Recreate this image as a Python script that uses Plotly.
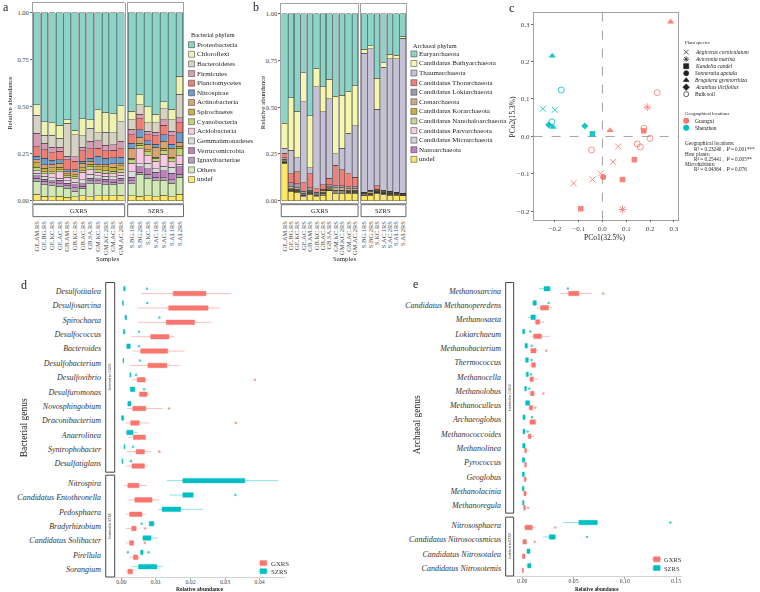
import plotly.graph_objects as go

W, H = 760, 592
FONT = "Liberation Serif"
RED = "#F8766D"
TEAL = "#00BFC4"
RED_L = "rgba(248,118,109,0.45)"
TEAL_L = "rgba(0,191,196,0.45)"

# ---------------- panel a : bacterial phyla ----------------
gx_samples = ["GE.AM.RS", "GE.BG.RS", "GE.KC.RS", "GE.AC.RS", "GB.AM.RS", "GB.KC.RS",
              "GB.AC.RS", "GB.SA.RS", "GM.KC.RS", "GM.KC.2RS", "GM.AC.RS", "GM.AC.2RS"]
sz_samples = ["S.BG.1RS", "S.BG.2RS", "S.KC.RS", "S.AC.1RS", "S.AC.2RS", "S.AI.1RS", "S.AI.2RS"]

proteobacteria = [0.49, 0.58, 0.585, 0.60, 0.57, 0.625, 0.565, 0.57, 0.517, 0.53, 0.538, 0.494,
                  0.524, 0.437, 0.50, 0.54, 0.473, 0.513, 0.338]
chloroflexi = [0.055, 0.071, 0.066, 0.067, 0.018, 0.025, 0.09, 0.045, 0.123, 0.105, 0.10, 0.086,
               0.046, 0.053, 0.085, 0.045, 0.037, 0.057, 0.097]
bacteroidetes = [0.097, 0.044, 0.065, 0.048, 0.177, 0.116, 0.06, 0.07, 0.04, 0.07, 0.065, 0.105,
                 0.05, 0.05, 0.045, 0.05, 0.06, 0.06, 0.125]
firmicutes = [0.07, 0.035, 0.03, 0.023, 0.018, 0.025, 0.02, 0.04, 0.04, 0.03, 0.03, 0.04,
              0.03, 0.025, 0.02, 0.02, 0.03, 0.025, 0.025]
planctomycetes = [0.053, 0.044, 0.04, 0.044, 0.053, 0.045, 0.055, 0.05, 0.045, 0.04, 0.04, 0.045,
                  0.045, 0.058, 0.03, 0.045, 0.05, 0.045, 0.055]
nitrospirae = [0.018, 0.035, 0.02, 0.018, 0.009, 0.01, 0.01, 0.015, 0.04, 0.03, 0.03, 0.03,
               0.025, 0.039, 0.02, 0.015, 0.035, 0.02, 0.05]
actinobacteria = [0.014, 0.018, 0.02, 0.021, 0.012, 0.015, 0.025, 0.015, 0.015, 0.015, 0.02, 0.015,
                  0.055, 0.032, 0.03, 0.055, 0.035, 0.05, 0.02]
spirochaetes = [0.025, 0.018, 0.02, 0.014, 0.011, 0.012, 0.015, 0.015, 0.015, 0.02, 0.02, 0.02,
                0.005, 0.01, 0.01, 0.005, 0.012, 0.008, 0.01]
cyanobacteria = [0.02, 0.012, 0.012, 0.011, 0.007, 0.01, 0.01, 0.015, 0.015, 0.015, 0.015, 0.015,
                 0.02, 0.02, 0.02, 0.015, 0.02, 0.015, 0.04]
acidobacteria = [0.012, 0.014, 0.02, 0.034, 0.018, 0.02, 0.04, 0.025, 0.018, 0.015, 0.015, 0.015,
                 0.045, 0.08, 0.04, 0.04, 0.065, 0.03, 0.045]
gemmatimonadetes = [0.014, 0.014, 0.015, 0.012, 0.014, 0.012, 0.02, 0.02, 0.015, 0.015, 0.015, 0.015,
                    0.03, 0.016, 0.03, 0.02, 0.025, 0.03, 0.015]
verrucomicrobia = [0.012, 0.012, 0.012, 0.018, 0.014, 0.015, 0.013, 0.015, 0.012, 0.015, 0.015, 0.015,
                   0.02, 0.03, 0.03, 0.025, 0.035, 0.035, 0.04]
ignavibacteriae = [0.018, 0.018, 0.015, 0.014, 0.012, 0.02, 0.012, 0.015, 0.015, 0.015, 0.012, 0.015,
                   0.015, 0.01, 0.02, 0.018, 0.015, 0.02, 0.015]
bac_others = [0.067, 0.062, 0.06, 0.053, 0.048, 0.03, 0.04, 0.068, 0.065, 0.06, 0.06, 0.06,
              0.065, 0.117, 0.095, 0.085, 0.08, 0.07, 0.09]
bac_undef = [0.035, 0.023, 0.02, 0.023, 0.019, 0.02, 0.025, 0.022, 0.025, 0.025, 0.025, 0.03,
             0.025, 0.023, 0.025, 0.022, 0.028, 0.022, 0.035]

bac_names = ["Proteobacteria", "Chloroflexi", "Bacteroidetes", "Firmicutes", "Planctomycetes",
             "Nitrospirae", "Actinobacteria", "Spirochaetes", "Cyanobacteria", "Acidobacteria",
             "Gemmatimonadetes", "Verrucomicrobia", "Ignavibacteriae", "Others", "undef"]
bac_values = [proteobacteria, chloroflexi, bacteroidetes, firmicutes, planctomycetes, nitrospirae,
              actinobacteria, spirochaetes, cyanobacteria, acidobacteria, gemmatimonadetes,
              verrucomicrobia, ignavibacteriae, bac_others, bac_undef]
bac_colors = ["#8DD3C7", "#EEF3B2", "#D6D2C4", "#D99BB4", "#EF7F74", "#6F9DCB", "#D9A56F",
              "#CDB042", "#BCD67C", "#F9C8E3", "#DCDCDC", "#BD82BE", "#B9A0BA", "#D1EAB5", "#FDE767"]

# ---------------- panel b : archaeal phyla ----------------
euryarchaeota = [0.585, 0.45, 0.52, 0.315, 0.545, 0.29, 0.39, 0.35, 0.44, 0.435, 0.415, 0.385,
                 0.19, 0.17, 0.345, 0.26, 0.215, 0.22, 0.12]
bathyarchaeota = [0.135, 0.28, 0.25, 0.155, 0.28, 0.10, 0.135, 0.105, 0.31, 0.285, 0.225, 0.215,
                  0.02, 0.015, 0.165, 0.025, 0.025, 0.02, 0.01]
thaumarchaeota = [0.025, 0.125, 0.075, 0.435, 0.03, 0.545, 0.39, 0.425, 0.06, 0.115, 0.215, 0.275,
                  0.745, 0.76, 0.41, 0.66, 0.71, 0.715, 0.83]
thorarchaeota = [0.025, 0.05, 0.065, 0.045, 0.075, 0.02, 0.025, 0.035, 0.11, 0.085, 0.07, 0.05,
                 0.0, 0.0, 0.019, 0.001, 0.0, 0.0, 0.0]
lokiarchaeota = [0.007, 0.02, 0.02, 0.01, 0.015, 0.008, 0.005, 0.01, 0.01, 0.01, 0.01, 0.01,
                 0.005, 0.005, 0.005, 0.004, 0.004, 0.002, 0.001]
crenarchaeota = [0.008, 0.01, 0.01, 0.007, 0.005, 0.005, 0.01, 0.005, 0.013, 0.013, 0.01, 0.01,
                 0.004, 0.009, 0.005, 0.004, 0.005, 0.003, 0.002]
korarchaeota = [0.005, 0.004, 0.004, 0.003, 0.005, 0.003, 0.004, 0.005, 0.005, 0.005, 0.004, 0.004,
                0.003, 0.003, 0.003, 0.003, 0.003, 0.002, 0.002]
nanohaloarchaeota = [0.003, 0.003, 0.003, 0.002, 0.002, 0.002, 0.003, 0.002, 0.003, 0.003, 0.003, 0.003,
                     0.002, 0.002, 0.002, 0.002, 0.002, 0.002, 0.002]
parvarchaeota = [0.002, 0.002, 0.002, 0.002, 0.002, 0.002, 0.002, 0.002, 0.002, 0.002, 0.002, 0.002,
                 0.001, 0.001, 0.001, 0.001, 0.001, 0.001, 0.001]
micrarchaeota = [0.003, 0.004, 0.004, 0.004, 0.004, 0.003, 0.004, 0.004, 0.005, 0.005, 0.004, 0.004,
                 0.003, 0.003, 0.003, 0.003, 0.003, 0.003, 0.002]
nanoarchaeota = [0.002, 0.002, 0.002, 0.002, 0.002, 0.002, 0.002, 0.002, 0.002, 0.002, 0.002, 0.002,
                 0.002, 0.002, 0.002, 0.002, 0.002, 0.002, 0.002]
arc_undef = [0.20, 0.05, 0.045, 0.02, 0.035, 0.02, 0.03, 0.055, 0.04, 0.04, 0.04, 0.04,
             0.025, 0.03, 0.04, 0.035, 0.03, 0.03, 0.028]

arc_names = ["Euryarchaeota", "Candidatus Bathyarchaeota", "Thaumarchaeota", "Candidatus Thorarchaeota",
             "Candidatus Lokiarchaeota", "Crenarchaeota", "Candidatus Korarchaeota",
             "Candidatus Nanohaloarchaeota", "Candidatus Parvarchaeota", "Candidatus Micrarchaeota",
             "Nanoarchaeota", "undef"]
arc_values = [euryarchaeota, bathyarchaeota, thaumarchaeota, thorarchaeota, lokiarchaeota,
              crenarchaeota, korarchaeota, nanohaloarchaeota, parvarchaeota, micrarchaeota,
              nanoarchaeota, arc_undef]
arc_colors = ["#8DD3C7", "#F6F6B0", "#C6C2D5", "#EE8079", "#A09AA8", "#CBAA86", "#CDB042",
              "#C7D5A0", "#F7D0E2", "#D5D0DA", "#BD82BE", "#FDE767"]

# ---------------- panel c : PCoA ----------------
pc1 = [-0.211, -0.173, -0.25, -0.2, -0.212, -0.225, -0.208, -0.074, -0.042,
       0.286, 0.23, 0.188, 0.174, 0.173, 0.2, 0.032, -0.046, 0.066, 0.146, 0.159,
       0.045, 0.134, -0.008, 0.003, 0.084, -0.042, -0.121, -0.091, 0.084]
pc2 = [0.215, 0.124, 0.074, 0.071, 0.039, 0.031, 0.025, 0.028, 0.007,
       0.306, 0.117, 0.078, 0.022, 0.015, -0.005, 0.016, -0.036, -0.027, -0.02, -0.028,
       -0.068, -0.062, -0.099, -0.108, -0.115, -0.115, -0.125, -0.193, -0.195]
pt_species = ["Bruguiera gymnorrhiza", "Bulk soil", "Aegiceras corniculatum", "Aegiceras corniculatum",
              "Bulk soil", "Acanthus ilicifolius", "Bruguiera gymnorrhiza", "Acanthus ilicifolius",
              "Kandelia candel",
              "Bruguiera gymnorrhiza", "Bulk soil", "Avicennia marina", "Bulk soil", "Kandelia candel",
              "Bulk soil", "Bruguiera gymnorrhiza", "Bulk soil", "Aegiceras corniculatum", "Bulk soil",
              "Bulk soil", "Aegiceras corniculatum", "Kandelia candel", "Aegiceras corniculatum",
              "Sonneratia apetala", "Kandelia candel", "Aegiceras corniculatum",
              "Aegiceras corniculatum", "Kandelia candel", "Avicennia marina"]
pt_location = ["Shenzhen"] * 9 + ["Guangxi"] * 20
species_names = ["Aegiceras corniculatum", "Avicennia marina", "Kandelia candel", "Sonneratia apetala",
                 "Bruguiera gymnorrhiza", "Acanthus ilicifolius", "Bulk soil"]
species_symbols = ["x-thin", "asterisk", "square", "circle", "triangle-up", "diamond", "circle-open"]
species_sizes = [6, 6.5, 5.5, 6, 6.5, 5.5, 6]
location_names = ["Guangxi", "Shenzhen"]
location_colors = [RED, TEAL]
stats_lines = ["Geographical locations:", "R\u00b2 = 0.23240\uff0c<i>P</i> = 0.001***",
               "Host plants:", "R\u00b2 = 0.25441\uff0c<i>P</i> = 0.005**",
               "Microhabitats:", "R\u00b2 = 0.04364\uff0c<i>P</i> = 0.076"]

# ---------------- panel d : bacterial genera (lowerfence, q1, median, q3, upperfence) ----------------
d_genus = ["Desulfotitalea", "Desulfosarcina", "Spirochaeta", "Desulfococcus", "Bacteroides",
           "Desulfobacterium", "Desulfovibrio", "Desulfuromonas", "Novosphingobium",
           "Draconibacterium", "Anaerolinea", "Syntrophobacter", "Desulfatiglans",
           "Nitrospira", "Candidatus Entotheonella", "Pedosphaera", "Bradyrhizobium",
           "Candidatus Solibacter", "Pirellula", "Sorangium"]
d_split = 13
d_gxrs = [(0.0057, 0.015, 0.0203, 0.0245, 0.0318), (0.0047, 0.0137, 0.0221, 0.0251, 0.0285),
          (0.0048, 0.013, 0.0195, 0.0212, 0.026), (0.0029, 0.0085, 0.0123, 0.0138, 0.0154),
          (0.0033, 0.0056, 0.0094, 0.0134, 0.0183), (0.0026, 0.0077, 0.0118, 0.0132, 0.0169),
          (0.0031, 0.0046, 0.006, 0.0069, 0.0074), (0.0048, 0.0053, 0.0068, 0.0075, 0.0084),
          (0.0017, 0.0033, 0.0054, 0.0071, 0.0119), (0.0012, 0.0027, 0.0039, 0.0052, 0.0081),
          (0.0021, 0.0035, 0.0054, 0.007, 0.007), (0.0016, 0.0043, 0.0055, 0.0067, 0.0086),
          (0.0013, 0.0031, 0.0051, 0.0067, 0.0078),
          (0.0009, 0.0019, 0.0036, 0.0051, 0.0074), (0.002, 0.0039, 0.0063, 0.0089, 0.0109),
          (0.0013, 0.0024, 0.0041, 0.006, 0.0071), (0.0013, 0.003, 0.0036, 0.0043, 0.0045),
          (0.0012, 0.0024, 0.0029, 0.0036, 0.0036), (0.0024, 0.0035, 0.0041, 0.0048, 0.0053),
          (0.0014, 0.0019, 0.0026, 0.0033, 0.0033)]
d_szrs = [(0.0005, 0.0007, 0.0009, 0.0011, 0.0013), (0.0003, 0.0004, 0.0005, 0.0006, 0.0007),
          (0.001, 0.0011, 0.0013, 0.0015, 0.0016), (0.0005, 0.0006, 0.0008, 0.001, 0.0011),
          (0.0014, 0.0016, 0.0021, 0.0026, 0.0028), (0.0004, 0.0005, 0.0006, 0.0007, 0.0008),
          (0.0024, 0.0025, 0.0026, 0.0027, 0.0028), (0.0024, 0.0026, 0.0033, 0.0039, 0.0041),
          (0.0016, 0.0019, 0.0025, 0.0028, 0.0029), (0.0, 0.0001, 0.0003, 0.0007, 0.0009),
          (0.0012, 0.0016, 0.0023, 0.0034, 0.0048), (0.0007, 0.0008, 0.0009, 0.001, 0.0011),
          (0.0002, 0.0002, 0.0003, 0.0004, 0.0004),
          (0.0132, 0.0178, 0.0243, 0.0357, 0.0453), (0.014, 0.0178, 0.019, 0.0208, 0.0208),
          (0.0107, 0.0118, 0.0147, 0.0172, 0.0237), (0.0081, 0.0081, 0.0088, 0.0094, 0.0098),
          (0.0059, 0.0063, 0.0074, 0.0086, 0.0106), (0.0056, 0.0056, 0.006, 0.0063, 0.0063),
          (0.0029, 0.005, 0.0074, 0.0103, 0.0119)]
d_out_gxrs_genus = ["Desulfovibrio", "Novosphingobium", "Draconibacterium", "Syntrophobacter",
                    "Bradyrhizobium", "Candidatus Solibacter"]
d_out_gxrs_value = [0.0386, 0.0138, 0.0331, 0.011, 0.0069, 0.0068]
d_out_szrs_genus = ["Desulfotitalea", "Desulfosarcina", "Spirochaeta", "Desulfococcus", "Bacteroides",
                    "Desulfobacterium", "Desulfovibrio", "Desulfuromonas", "Syntrophobacter",
                    "Desulfatiglans", "Candidatus Entotheonella", "Bradyrhizobium", "Pirellula", "Pirellula"]
d_out_szrs_value = [0.0074, 0.0075, 0.011, 0.0051, 0.0051, 0.0054, 0.0043, 0.0066, 0.0034,
                    0.0028, 0.033, 0.0059, 0.0019, 0.0079]

# ---------------- panel e : archaeal genera ----------------
e_genus = ["Methanosarcina", "Candidatus Methanoperedens", "Methanosaeta", "Lokiarchaeum",
           "Methanobacterium", "Thermococcus", "Methanocella", "Methanolobus", "Methanoculleus",
           "Archaeoglobus", "Methanococcoides", "Methanolinea", "Pyrococcus", "Geoglobus",
           "Methanolacinia", "Methanoregula",
           "Nitrososphaera", "Candidatus Nitrosocosmicus", "Candidatus Nitrosotalea",
           "Candidatus Nitrosotemis"]
e_split = 16
e_gxrs = [(0.037, 0.0451, 0.05, 0.0552, 0.0675), (0.0146, 0.0178, 0.0217, 0.0256, 0.029),
          (0.011, 0.013, 0.015, 0.0169, 0.0214), (0.0084, 0.011, 0.015, 0.0188, 0.027),
          (0.0068, 0.0084, 0.011, 0.0133, 0.0159), (0.0065, 0.0091, 0.0107, 0.0127, 0.0133),
          (0.0065, 0.0075, 0.0091, 0.0107, 0.0156), (0.0065, 0.0081, 0.0097, 0.0114, 0.0127),
          (0.0058, 0.0068, 0.0084, 0.01, 0.011), (0.0058, 0.0075, 0.01, 0.0127, 0.0143),
          (0.0045, 0.0058, 0.0071, 0.0084, 0.0114), (0.002, 0.0023, 0.003, 0.0039, 0.0068),
          (0.0023, 0.0023, 0.003, 0.0039, 0.0039), (0.0013, 0.002, 0.0026, 0.0036, 0.0049),
          (0.0006, 0.0016, 0.0026, 0.0036, 0.0058), (0.0006, 0.0013, 0.0023, 0.003, 0.003),
          (0.0016, 0.0026, 0.0065, 0.0097, 0.0127), (0.0, 0.0006, 0.002, 0.0039, 0.0039),
          (0.0, 0.0, 0.0013, 0.0026, 0.0026), (0.0, 0.0, 0.0003, 0.001, 0.001)]
e_szrs = [(0.0162, 0.0211, 0.024, 0.0269, 0.0276), (0.0088, 0.0104, 0.012, 0.0136, 0.0143),
          (0.0052, 0.0084, 0.0104, 0.0127, 0.0146), (0.0003, 0.0003, 0.0013, 0.0023, 0.0023),
          (0.0026, 0.0026, 0.0039, 0.0049, 0.0049), (0.0032, 0.0032, 0.0045, 0.0058, 0.0058),
          (0.0023, 0.0039, 0.0049, 0.0058, 0.0065), (0.0023, 0.0023, 0.003, 0.0039, 0.0039),
          (0.0023, 0.0032, 0.0052, 0.0071, 0.0078), (0.0, 0.0006, 0.0016, 0.0026, 0.0032),
          (0.0006, 0.0006, 0.0016, 0.0026, 0.0026), (0.0, 0.0003, 0.001, 0.0026, 0.0039),
          (0.0, 0.0, 0.0008, 0.0023, 0.0026), (0.0, 0.0, 0.0008, 0.0019, 0.0029),
          (0.0, 0.0, 0.0006, 0.0016, 0.0023), (0.0, 0.0003, 0.001, 0.0016, 0.0016),
          (0.0399, 0.0552, 0.0623, 0.0731, 0.0737), (0.0201, 0.0263, 0.0282, 0.0321, 0.0328),
          (0.0045, 0.0045, 0.006, 0.0075, 0.0075), (0.003, 0.0052, 0.0068, 0.0084, 0.0084)]
e_out_gxrs_genus = ["Methanosarcina", "Methanobacterium", "Methanolobus", "Methanoculleus",
                    "Methanoregula", "Nitrososphaera", "Candidatus Nitrosocosmicus"]
e_out_gxrs_value = [0.0789, 0.0234, 0.0205, 0.0127, 0.0055, 0.0321, 0.012]
e_out_szrs_genus = ["Methanosarcina", "Candidatus Methanoperedens", "Lokiarchaeum", "Methanobacterium",
                    "Thermococcus", "Methanocella", "Methanolobus", "Archaeoglobus", "Methanococcoides",
                    "Nitrososphaera", "Candidatus Nitrosocosmicus"]
e_out_szrs_value = [0.0444, 0.0256, 0.0078, 0.0091, 0.0091, 0.0084, 0.0068, 0.0094, 0.0052,
                    0.1445, 0.063]


# ================= helpers =================
def dx(a, b):
    return [a / W, b / W]


def dy(top, bottom):
    return [1 - bottom / H, 1 - top / H]


def px(x):
    return x / W


def py(y):
    return 1 - y / H


annotations = []
shapes = []


def ann(x, y, text, size, xanchor="center", yanchor="middle", angle=0, color="#222"):
    annotations.append(dict(x=px(x), y=py(y), xref="paper", yref="paper", text=text, showarrow=False,
                            xanchor=xanchor, yanchor=yanchor, textangle=angle,
                            font=dict(size=size, family=FONT, color=color)))


def rect(x0, y0, x1, y1, line="#333", fill="white", width=0.8):
    shapes.append(dict(type="rect", xref="paper", yref="paper", x0=px(x0), x1=px(x1),
                       y0=py(y1), y1=py(y0), line=dict(color=line, width=width), fillcolor=fill,
                       layer="above"))


fig = go.Figure()

# ================= panels a and b : stacked bars =================
bar_line = dict(color="#262626", width=0.4)
for names, values, colors, xa, ya in [(bac_names, bac_values, bac_colors, ("x", "x2"), ("y", "y2")),
                                      (arc_names, arc_values, arc_colors, ("x3", "x4"), ("y3", "y4"))]:
    for name, vals, col in reversed(list(zip(names, values, colors))):
        fig.add_trace(go.Bar(x=gx_samples, y=vals[:len(gx_samples)], name=name, xaxis=xa[0], yaxis=ya[0],
                             marker=dict(color=col, line=bar_line), hoverinfo="skip"))
        fig.add_trace(go.Bar(x=sz_samples, y=vals[len(gx_samples):], name=name, xaxis=xa[1], yaxis=ya[1],
                             marker=dict(color=col, line=bar_line), hoverinfo="skip"))

# ================= panel c : PCoA =================
loc_color = dict(zip(location_names, location_colors))
for sp, sym, sz in zip(species_names, species_symbols, species_sizes):
    xs = [x for x, s in zip(pc1, pt_species) if s == sp]
    ys = [y for y, s in zip(pc2, pt_species) if s == sp]
    cs = [loc_color[l] for l, s in zip(pt_location, pt_species) if s == sp]
    thin = sym in ("x-thin", "asterisk", "circle-open")
    fig.add_trace(go.Scatter(x=xs, y=ys, mode="markers", xaxis="x5", yaxis="y5", opacity=0.9,
                             marker=dict(symbol=sym, size=sz, color=cs,
                                         line=dict(color=cs, width=0.9 if thin else 0)),
                             hoverinfo="skip"))

shapes.append(dict(type="line", xref="x5", yref="y5 domain", x0=0, x1=0, y0=0, y1=1,
                   line=dict(color="#8c8c8c", width=0.8, dash="dash"), layer="below"))
shapes.append(dict(type="line", xref="x5 domain", yref="y5", x0=0, x1=1, y0=0, y1=0,
                   line=dict(color="#8c8c8c", width=0.8, dash="dash"), layer="below"))


# ================= panels d and e : boxplots =================
def add_boxes(names, stats, fill, linecol, ya, xa):
    fig.add_trace(go.Box(y=names, lowerfence=[s[0] for s in stats], q1=[s[1] for s in stats],
                         median=[s[2] for s in stats], q3=[s[3] for s in stats],
                         upperfence=[s[4] for s in stats], orientation="h", fillcolor=fill,
                         line=dict(color=linecol, width=1), whiskerwidth=0, boxpoints=False,
                         xaxis=xa, yaxis=ya, hoverinfo="skip"))


def add_out(names, vals, color, ya, xa, allowed):
    sel = [(n, v) for n, v in zip(names, vals) if n in allowed]
    fig.add_trace(go.Scatter(x=[v for _, v in sel], y=[n for n, _ in sel], mode="markers",
                             xaxis=xa, yaxis=ya, marker=dict(size=2.6, color=color), opacity=0.7,
                             hoverinfo="skip"))


for genus, split, gx, sz, ogn, ogv, osn, osv, xa, axes in [
        (d_genus, d_split, d_gxrs, d_szrs, d_out_gxrs_genus, d_out_gxrs_value,
         d_out_szrs_genus, d_out_szrs_value, "x6", [("y6", "y7", "y8"), ("y9", "y10", "y11")]),
        (e_genus, e_split, e_gxrs, e_szrs, e_out_gxrs_genus, e_out_gxrs_value,
         e_out_szrs_genus, e_out_szrs_value, "x7", [("y12", "y13", "y14"), ("y15", "y16", "y17")])]:
    for (lo, hi), (yl, yr, yt) in zip([(0, split), (split, len(genus))], axes):
        g = genus[lo:hi]
        # invisible anchor trace registering the genus categories on the label axis
        fig.add_trace(go.Scatter(x=[s[2] for s in gx[lo:hi]], y=g, mode="markers", xaxis=xa, yaxis=yl,
                                 marker=dict(size=1, color="rgba(0,0,0,0)"), hoverinfo="skip"))
        add_boxes(g, gx[lo:hi], RED, RED_L, yr, xa)
        add_boxes(g, sz[lo:hi], TEAL, TEAL_L, yt, xa)
        add_out(ogn, ogv, RED, yr, xa, g)
        add_out(osn, osv, TEAL, yt, xa, g)

# ================= legends (own axes) =================
for names, colors, xa, ya in [(bac_names, bac_colors, "x8", "y18"), (arc_names, arc_colors, "x9", "y19")]:
    idx = list(range(len(names)))
    fig.add_trace(go.Scatter(x=[5] * len(names), y=idx, mode="markers", xaxis=xa, yaxis=ya,
                             marker=dict(symbol="square", size=6, color=colors,
                                         line=dict(color="#333", width=0.5)), hoverinfo="skip"))
    for i, n in enumerate(names):
        annotations.append(dict(x=8.5, y=i, xref=xa, yref=ya, text=n, showarrow=False, xanchor="left",
                                yanchor="middle", font=dict(size=7, family=FONT, color="#222")))

sidx = list(range(len(species_names)))
fig.add_trace(go.Scatter(x=[4] * len(species_names), y=sidx, mode="markers", xaxis="x10", yaxis="y20",
                         marker=dict(symbol=species_symbols, size=5, color="#222",
                                     line=dict(color="#222", width=0.7)), hoverinfo="skip"))
for i, n in enumerate(species_names):
    txt = n if n == "Bulk soil" else "<i>" + n + "</i>"
    annotations.append(dict(x=11, y=i, xref="x10", yref="y20", text=txt, showarrow=False, xanchor="left",
                            yanchor="middle", font=dict(size=5.5, family=FONT, color="#222")))
lidx = list(range(len(location_names)))
fig.add_trace(go.Scatter(x=[4] * len(location_names), y=lidx, mode="markers", xaxis="x11", yaxis="y21",
                         marker=dict(symbol="circle", size=6, color=location_colors), hoverinfo="skip"))
for i, n in enumerate(location_names):
    annotations.append(dict(x=11, y=i, xref="x11", yref="y21", text=n, showarrow=False, xanchor="left",
                            yanchor="middle", font=dict(size=5.5, family=FONT, color="#222")))
ann(684, 42.5, "Plant species", 4.8, xanchor="left")
ann(684, 113.5, "Geographical locations", 4.8, xanchor="left")
stat_y = [143.5, 149, 154, 159, 164, 169]
for i, (t, yy) in enumerate(zip(stats_lines, stat_y)):
    ann(684 if i % 2 == 0 else 693, yy, t, 5.2, xanchor="left")

# ================= layout axes =================
frame = dict(showline=True, linecolor="#8a8a8a", linewidth=0.8, mirror=True, showgrid=False,
             zeroline=False)
tickf = dict(size=6.5, family=FONT, color="#444")


def samp_x(domain, anchor, cats):
    return dict(domain=domain, anchor=anchor, type="category", categoryorder="array", categoryarray=cats,
                tickmode="array", tickvals=cats,
                range=[-0.5, len(cats) - 0.5], tickangle=-90, ticks="outside", ticklen=15,
                tickcolor="rgba(0,0,0,0)", tickfont=tickf, **frame)


def frac_y(domain, anchor, rng, labels):
    d = dict(domain=domain, anchor=anchor, range=rng, tickvals=[0, 0.25, 0.5, 0.75, 1.0],
             tickformat=".2f", tickfont=tickf, **frame)
    if labels:
        d.update(ticks="outside", ticklen=2, tickcolor="#666")
    else:
        d.update(showticklabels=False, ticks="")
    return d


ya_rng = [-0.0106, 1.0515]
yb_rng = [-0.0107, 1.0535]
DELTA = 0.17


def label_axis(domain, anchor, names, lo_hi, ticklen):
    lo, hi = lo_hi
    return dict(domain=domain, anchor=anchor, type="category", categoryorder="array", categoryarray=names,
                tickmode="array", tickvals=names, range=[hi, lo], ticks="outside", ticklen=ticklen,
                tickcolor="rgba(0,0,0,0)",
                tickfont=dict(size=8, family=FONT, color="#333", style="italic"),
                showline=False, showgrid=False, zeroline=False)


def data_axis(base, anchor, names, lo_hi, shift):
    lo, hi = lo_hi
    return dict(overlaying=base, anchor=anchor, type="category", categoryorder="array",
                categoryarray=names, range=[hi + shift, lo + shift], visible=False)


def val_x(domain, anchor, rng, tv):
    return dict(domain=domain, anchor=anchor, range=rng, tickvals=tv, tickformat=".2f", ticks="outside",
                ticklen=2, tickcolor="#aaa", tickfont=dict(size=5.8, family=FONT, color="#444"),
                ticklabelstandoff=-3,
                showline=True, linecolor="#c8c8c8", linewidth=0.8, showgrid=False, zeroline=False)


d1, d2 = d_genus[:d_split], d_genus[d_split:]
e1, e2 = e_genus[:e_split], e_genus[e_split:]
d1r, d2r = (-0.6, 12.6), (-0.55, 6.55)
e1r, e2r = (-0.6, 15.55), (-0.55, 3.55)


def leg_axes(xd, yd, n, xr, yname):
    return (dict(domain=xd, anchor=yname, range=[0, xr], visible=False),
            dict(domain=yd, anchor="x" + yname[1:], range=[n - 0.5, -0.5], visible=False))


la_x, la_y = leg_axes(dx(186, 260), dy(39.9, 184.6), len(bac_names), 74, "y18")
lb_x, lb_y = leg_axes(dx(409, 500), dy(49.2, 164.4), len(arc_names), 91, "y19")
lc_x, lc_y = leg_axes(dx(683, 760), dy(48.8, 97.8), len(species_names), 77, "y20")
ld_x, ld_y = leg_axes(dx(683, 760), dy(117.5, 131.5), len(location_names), 77, "y21")
la_y["anchor"], lb_y["anchor"], lc_y["anchor"], ld_y["anchor"] = "x8", "x9", "x10", "x11"

fig.update_layout(
    width=W, height=H, margin=dict(l=0, r=0, t=0, b=0), paper_bgcolor="white", plot_bgcolor="white",
    showlegend=False, barmode="stack", bargap=0.13, boxmode="overlay", boxgap=0.55,
    font=dict(family=FONT, color="#222"),
    xaxis=samp_x(dx(32, 124), "y", gx_samples),
    yaxis=frac_y(dy(3, 203), "x", ya_rng, True),
    xaxis2=samp_x(dx(127, 183), "y2", sz_samples),
    yaxis2=frac_y(dy(3, 203), "x2", ya_rng, False),
    xaxis3=samp_x(dx(281, 358), "y3", gx_samples),
    yaxis3=frac_y(dy(4, 203), "x3", yb_rng, True),
    xaxis4=samp_x(dx(361, 406), "y4", sz_samples),
    yaxis4=frac_y(dy(4, 203), "x4", yb_rng, False),
    xaxis5=dict(domain=dx(534, 679), anchor="y5", range=[-0.289, 0.318],
                tickvals=[-0.2, -0.1, 0, 0.1, 0.2, 0.3], tickformat=".1f", ticks="outside", ticklen=2,
                tickcolor="#666", tickfont=dict(size=7, family=FONT, color="#444"), **frame),
    yaxis5=dict(domain=dy(13, 220), anchor="x5", range=[-0.222, 0.3296],
                tickvals=[-0.2, -0.1, 0, 0.1, 0.2, 0.3], tickformat=".1f", ticks="outside", ticklen=2,
                tickcolor="#666", tickfont=dict(size=7, family=FONT, color="#444"), **frame),
    xaxis6=val_x(dx(114, 285), "y9", [-0.0019, 0.0474], [0, 0.01, 0.02, 0.03, 0.04]),
    yaxis6=label_axis(dy(283, 473), "x6", d1, d1r, 11),
    yaxis7=data_axis("y6", "x6", d1, d1r, -DELTA),
    yaxis8=data_axis("y6", "x6", d1, d1r, DELTA),
    yaxis9=label_axis(dy(476, 578), "x6", d2, d2r, 11),
    yaxis10=data_axis("y9", "x6", d2, d2r, -DELTA),
    yaxis11=data_axis("y9", "x6", d2, d2r, DELTA),
    xaxis7=val_x(dx(514, 683), "y15", [-0.0085, 0.156], [0, 0.05, 0.10, 0.15]),
    yaxis12=label_axis(dy(283, 514), "x7", e1, e1r, 10),
    yaxis13=data_axis("y12", "x7", e1, e1r, -DELTA),
    yaxis14=data_axis("y12", "x7", e1, e1r, DELTA),
    yaxis15=label_axis(dy(518, 577), "x7", e2, e2r, 10),
    yaxis16=data_axis("y15", "x7", e2, e2r, -DELTA),
    yaxis17=data_axis("y15", "x7", e2, e2r, DELTA),
    xaxis8=la_x, yaxis18=la_y, xaxis9=lb_x, yaxis19=lb_y,
    xaxis10=lc_x, yaxis20=lc_y, xaxis11=ld_x, yaxis21=ld_y,
)

# ================= decorations: strips, titles, labels =================
for x0, x1, t in [(32, 124, "GXRS"), (127, 183, "SZRS"), (281, 358, "GXRS"), (361, 406, "SZRS")]:
    rect(x0, 205, x1, 217, line="#444")
    ann((x0 + x1) / 2, 211, t, 6.5)
ann(107, 258.5, "Samples", 6.8)
ann(344, 258.5, "Samples", 6.8)
ann(9, 103, "Relative abundance", 6.8, angle=-90)
ann(263, 103, "Relative abundance", 6.8, angle=-90)
ann(188, 34.5, "Bacterial phylum", 6.3, xanchor="left")
ann(411, 45.5, "Archaeal phylum", 6.3, xanchor="left")
ann(606, 237.5, "PCo1(32.5%)", 7.5)
ann(513, 117, "PCo2(15.3%)", 7.5, angle=-90)

ann(5, 7, "a", 12)
ann(256, 7, "b", 12)
ann(512, 8, "c", 12)
ann(23, 285, "d", 12)
ann(416, 284, "e", 12)

for x0, x1, y0, y1, t in [(105, 114, 283, 473, "Enriched in GXRS"), (105, 114, 476, 578, "Enriched in SZRS"),
                          (506, 514, 283, 514, "Enriched in GXRS"), (506, 514, 518, 577, "Enriched in SZRS")]:
    rect(x0, y0, x1, y1, line="#444", width=1)
    ann((x0 + x1) / 2, (y0 + y1) / 2, t, 3.6, angle=-90, color="#444")

ann(23, 428, "Bacterial genus", 9.5, angle=-90)
ann(417, 425, "Archaeal genus", 9.5, angle=-90)
ann(199.5, 589.5, "<b>Relative abundance</b>", 5.6)
ann(598, 589.5, "<b>Relative abundance</b>", 5.2)

for xc, ys, fs in [(263, (564, 572.2), 6.8), (657.5, (560.2, 569), 6.5)]:
    for yy, fill, lc, t in [(ys[0], RED, RED_L, "GXRS"), (ys[1], TEAL, TEAL_L, "SZRS")]:
        shapes.append(dict(type="line", xref="paper", yref="paper", x0=px(xc - 5), x1=px(xc + 5),
                           y0=py(yy), y1=py(yy), line=dict(color=lc, width=1)))
        rect(xc - 3.3, yy - 2.5, xc + 3.3, yy + 2.5, line=fill, fill=fill, width=0.5)
        ann(xc + 5.5, yy, t, fs, xanchor="left", color="#333")

fig.update_layout(annotations=annotations, shapes=shapes)
fig.write_html("out.html", config={"displayModeBar": False, "staticPlot": True},
               post_script="document.body.style.margin='0';document.body.style.overflow='hidden';")
